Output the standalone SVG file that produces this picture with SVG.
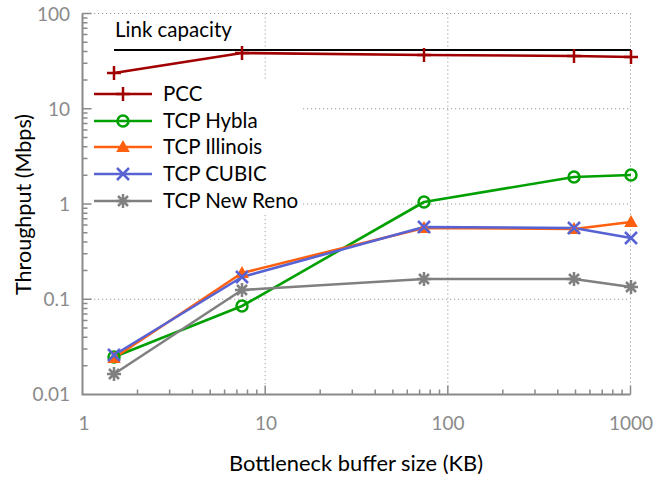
<svg xmlns="http://www.w3.org/2000/svg" xmlns:xlink="http://www.w3.org/1999/xlink" width="656" height="482" viewBox="0 0 656 482">
<style>
.grid{stroke:#9a9a9a;stroke-width:1;stroke-dasharray:1.2,2.8;fill:none}
.axis{stroke:#8a8a8a;stroke-width:2;fill:none}
.tick{stroke:#8a8a8a;stroke-width:1.5;fill:none}
.tl{font-family:Lato,"Open Sans",sans-serif;font-size:19px;fill:#8a8a8a}
.lab{font-family:Lato,"Open Sans",sans-serif;font-size:20.5px;fill:#000}
.ser{fill:none;stroke-width:2.6;stroke-linejoin:round}
.pcc{stroke:#a00000}
.hyb{stroke:#00a000}
.ill{stroke:#ff6010}
.cub{stroke:#5863d3}
.nr{stroke:#808080}
</style>
<defs>
<path id="mPlus" d="M-7,0H7M0,-7V7" stroke-width="2.5" fill="none"/>
<circle id="mCirc" r="5.5" stroke-width="2.5" fill="none"/>
<polygon id="mTri" points="0,-7 6.8,5 -6.8,5" stroke="none"/>
<path id="mX" d="M-6,-6L6,6M-6,6L6,-6" stroke-width="2.5" fill="none"/>
<path id="mStar" d="M-7,0H7M0,-7V7M-5,-5L5,5M-5,5L5,-5" stroke-width="2.5" fill="none"/>
</defs>

<g id="grid">
<line class="grid" x1="82" y1="13.5" x2="630.5" y2="13.5"/>
<line class="grid" x1="303" y1="108.75" x2="630.5" y2="108.75"/>
<line class="grid" x1="303" y1="204" x2="630.5" y2="204"/>
<line class="grid" x1="90" y1="299.25" x2="630.5" y2="299.25"/>
<line class="grid" x1="265.17" y1="13.5" x2="265.17" y2="80"/>
<line class="grid" x1="265.17" y1="215" x2="265.17" y2="387"/>
<line class="grid" x1="447.83" y1="13.5" x2="447.83" y2="387"/>
<line class="grid" x1="630.5" y1="13.5" x2="630.5" y2="387"/>
</g>

<g id="axes">
<path class="axis" d="M82.5,13.5V394.5H630.5"/>
<path class="tick" d="M82.5,13.5h9M82.5,108.75h9M82.5,204h9M82.5,299.25h9
M82.5,365.8h5M82.5,349h5M82.5,337.2h5M82.5,327.9h5M82.5,320.4h5M82.5,314h5M82.5,308.5h5M82.5,303.6h5
M82.5,270.6h5M82.5,253.8h5M82.5,241.9h5M82.5,232.7h5M82.5,225.1h5M82.5,218.8h5M82.5,213.2h5M82.5,208.3h5
M82.5,175.3h5M82.5,158.5h5M82.5,146.7h5M82.5,137.4h5M82.5,129.9h5M82.5,123.5h5M82.5,118h5M82.5,113.1h5
M82.5,80.1h5M82.5,63.3h5M82.5,51.4h5M82.5,42.2h5M82.5,34.6h5M82.5,28.3h5M82.5,22.7h5M82.5,17.9h5"/>
<path class="tick" d="M265.17,394.5v-9M447.83,394.5v-9M630.5,394.5v-9
M137.5,394.5v-5M169.65,394.5v-5M192.5,394.5v-5M210.2,394.5v-5M224.6,394.5v-5M236.9,394.5v-5M247.5,394.5v-5M256.8,394.5v-5
M320.2,394.5v-5M352.3,394.5v-5M375.2,394.5v-5M392.9,394.5v-5M407.3,394.5v-5M419.6,394.5v-5M430.2,394.5v-5M439.5,394.5v-5
M502.8,394.5v-5M535,394.5v-5M557.8,394.5v-5M575.5,394.5v-5M589.9,394.5v-5M602.2,394.5v-5M612.8,394.5v-5M622.1,394.5v-5"/>
<g class="tl" text-anchor="end">
<text x="70" y="21">100</text>
<text x="70" y="116">10</text>
<text x="70" y="211">1</text>
<text x="70" y="306">0.1</text>
<text x="70" y="401">0.01</text>
</g>
<g class="tl" text-anchor="middle">
<text x="84" y="430">1</text>
<text x="266" y="430">10</text>
<text x="448" y="430">100</text>
<text x="631" y="430">1000</text>
</g>
<text class="lab" x="229" y="471" font-size="22" textLength="254" lengthAdjust="spacingAndGlyphs">Bottleneck buffer size (KB)</text>
<text class="lab" transform="translate(31,295) rotate(-90)" font-size="22" textLength="181" lengthAdjust="spacingAndGlyphs">Throughput (Mbps)</text>
</g>

<g id="link-capacity">
<line x1="114" y1="50" x2="631" y2="50" stroke="#000" stroke-width="1.8"/>
<text class="lab" x="115" y="37" font-size="21.5">Link capacity</text>
</g>

<g id="connectors">
<polyline class="ser pcc" points="114,73 242,53 424,55 574,56 631,57"/>
<polyline class="ser hyb" points="114,357 242,306 424,202 574,177 631,175"/>
<polyline class="ser ill" points="114,358 242,273 424,228 574,229 631,222"/>
<polyline class="ser cub" points="114,355 242,277 424,227 574,228 631,238"/>
<polyline class="ser nr" points="114,374 242,290 424,279 574,279 631,287"/>
</g>

<g id="series-pcc" stroke="#a00000" fill="#a00000">
<use xlink:href="#mPlus" x="114" y="73"/><use xlink:href="#mPlus" x="242" y="53"/><use xlink:href="#mPlus" x="424" y="55"/><use xlink:href="#mPlus" x="574" y="56"/><use xlink:href="#mPlus" x="631" y="57"/>
</g>
<g id="series-hybla" stroke="#00a000">
<use xlink:href="#mCirc" x="114" y="357"/><use xlink:href="#mCirc" x="242" y="306"/><use xlink:href="#mCirc" x="424" y="202"/><use xlink:href="#mCirc" x="574" y="177"/><use xlink:href="#mCirc" x="631" y="175"/>
</g>
<g id="series-illinois" fill="#ff6010">
<use xlink:href="#mTri" x="114" y="358"/><use xlink:href="#mTri" x="242" y="273"/><use xlink:href="#mTri" x="424" y="228"/><use xlink:href="#mTri" x="574" y="229"/><use xlink:href="#mTri" x="631" y="222"/>
</g>
<g id="series-cubic" stroke="#5863d3">
<use xlink:href="#mX" x="114" y="355"/><use xlink:href="#mX" x="242" y="277"/><use xlink:href="#mX" x="424" y="227"/><use xlink:href="#mX" x="574" y="228"/><use xlink:href="#mX" x="631" y="238"/>
</g>
<g id="series-newreno" stroke="#808080">
<use xlink:href="#mStar" x="114" y="374"/><use xlink:href="#mStar" x="242" y="290"/><use xlink:href="#mStar" x="424" y="279"/><use xlink:href="#mStar" x="574" y="279"/><use xlink:href="#mStar" x="631" y="287"/>
</g>

<g id="legend">
<line class="ser pcc" x1="94" y1="94" x2="152" y2="94"/><use xlink:href="#mPlus" x="123" y="94" stroke="#a00000"/>
<text class="lab" x="163" y="101">PCC</text>
<line class="ser hyb" x1="94" y1="121" x2="152" y2="121"/><use xlink:href="#mCirc" x="123" y="121" stroke="#00a000"/>
<text class="lab" x="163" y="128">TCP Hybla</text>
<line class="ser ill" x1="94" y1="147" x2="152" y2="147"/><use xlink:href="#mTri" x="123" y="147" fill="#ff6010"/>
<text class="lab" x="163" y="154">TCP Illinois</text>
<line class="ser cub" x1="94" y1="174" x2="152" y2="174"/><use xlink:href="#mX" x="123" y="174" stroke="#5863d3"/>
<text class="lab" x="163" y="181">TCP CUBIC</text>
<line class="ser nr" x1="94" y1="201" x2="152" y2="201"/><use xlink:href="#mStar" x="123" y="201" stroke="#808080"/>
<text class="lab" x="163" y="208">TCP New Reno</text>
</g>
</svg>
